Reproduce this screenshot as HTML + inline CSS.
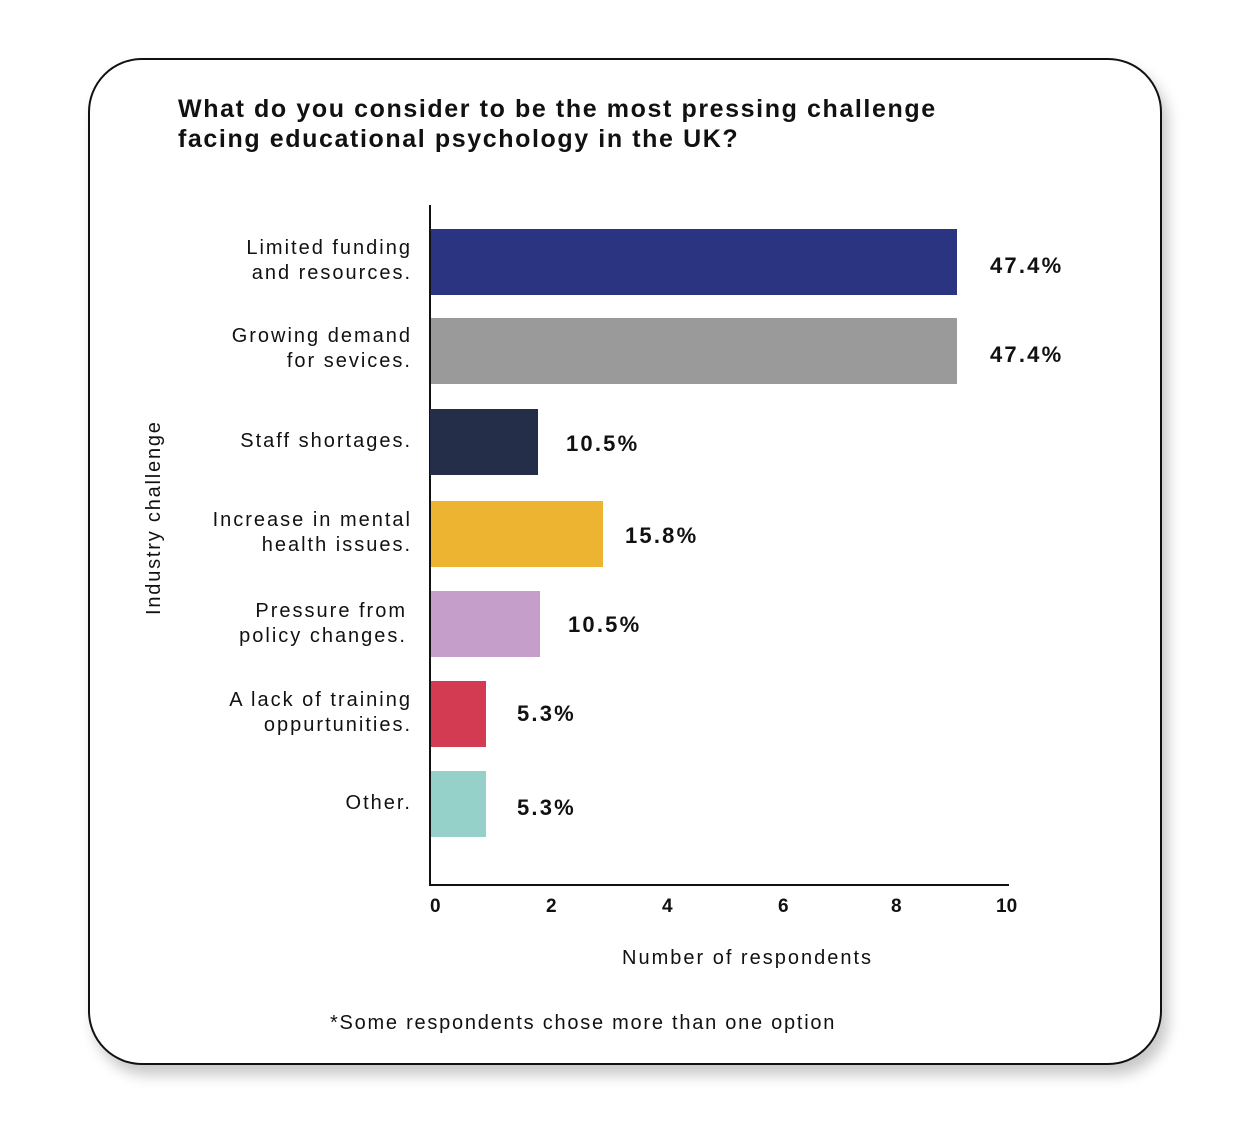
<!DOCTYPE html>
<html><head><style>
body{margin:0;width:1242px;height:1123px;background:#fff;position:relative;font-family:"Liberation Sans",sans-serif;overflow:hidden}
.card{position:absolute;left:88px;top:58px;width:1070px;height:1003px;border:2px solid #111;border-radius:54px;box-shadow:6px 10px 14px rgba(0,0,0,0.22);background:#fff}
.t{position:absolute;color:#111;white-space:nowrap}
.lab{position:absolute;right:830px;text-align:right;font-size:20px;line-height:25px;color:#111;letter-spacing:2px;white-space:nowrap}
.bar{position:absolute;left:431px;height:66px}
.val{position:absolute;font-weight:bold;font-size:22px;color:#111;letter-spacing:2.2px}
.tick{position:absolute;top:896px;font-weight:bold;font-size:19px;color:#111}
</style></head><body>
<div class="card"></div>
<div class="t" style="left:178px;top:94px;font-weight:bold;font-size:25px;line-height:30px;letter-spacing:1.6px">What do you consider to be the most pressing challenge<br>facing educational psychology in the UK?</div>
<div style="position:absolute;left:429px;top:205px;width:2px;height:681px;background:#111"></div>
<div style="position:absolute;left:429px;top:884px;width:580px;height:2px;background:#111"></div>
<div class="lab" style="top:236px">Limited funding<br>and resources.</div>
<div class="lab" style="top:324px">Growing demand<br>for sevices.</div>
<div class="lab" style="top:429px">Staff shortages.</div>
<div class="lab" style="top:508px">Increase in mental<br>health issues.</div>
<div class="lab" style="top:599px;right:835px">Pressure from<br>policy changes.</div>
<div class="lab" style="top:688px">A lack of training<br>oppurtunities.</div>
<div class="lab" style="top:791px">Other.</div>
<div class="bar" style="top:229px;width:526px;background:#2a3480"></div>
<div class="bar" style="top:318px;width:526px;background:#9a9a9a"></div>
<div class="bar" style="top:409px;left:430px;width:108px;background:#252e48"></div>
<div class="bar" style="top:501px;width:172px;background:#ecb430"></div>
<div class="bar" style="top:591px;width:109px;background:#c59ec9"></div>
<div class="bar" style="top:681px;width:55px;background:#d33b53"></div>
<div class="bar" style="top:771px;width:55px;background:#95d0c9"></div>
<div class="val" style="left:990px;top:253px">47.4%</div>
<div class="val" style="left:990px;top:342px">47.4%</div>
<div class="val" style="left:566px;top:431px">10.5%</div>
<div class="val" style="left:625px;top:523px">15.8%</div>
<div class="val" style="left:568px;top:612px">10.5%</div>
<div class="val" style="left:517px;top:701px">5.3%</div>
<div class="val" style="left:517px;top:795px">5.3%</div>
<div class="tick" style="left:430px">0</div>
<div class="tick" style="left:546px">2</div>
<div class="tick" style="left:662px">4</div>
<div class="tick" style="left:778px">6</div>
<div class="tick" style="left:891px">8</div>
<div class="tick" style="left:996px">10</div>
<div class="t" style="left:622px;top:947px;font-size:20px;letter-spacing:2px">Number of respondents</div>
<div class="t" style="left:143px;top:615px;font-size:20px;letter-spacing:1.8px;transform:rotate(-90deg);transform-origin:0 0">Industry challenge</div>
<div class="t" style="left:330px;top:1012px;font-size:20px;letter-spacing:1.75px">*Some respondents chose more than one option</div>
</body></html>
